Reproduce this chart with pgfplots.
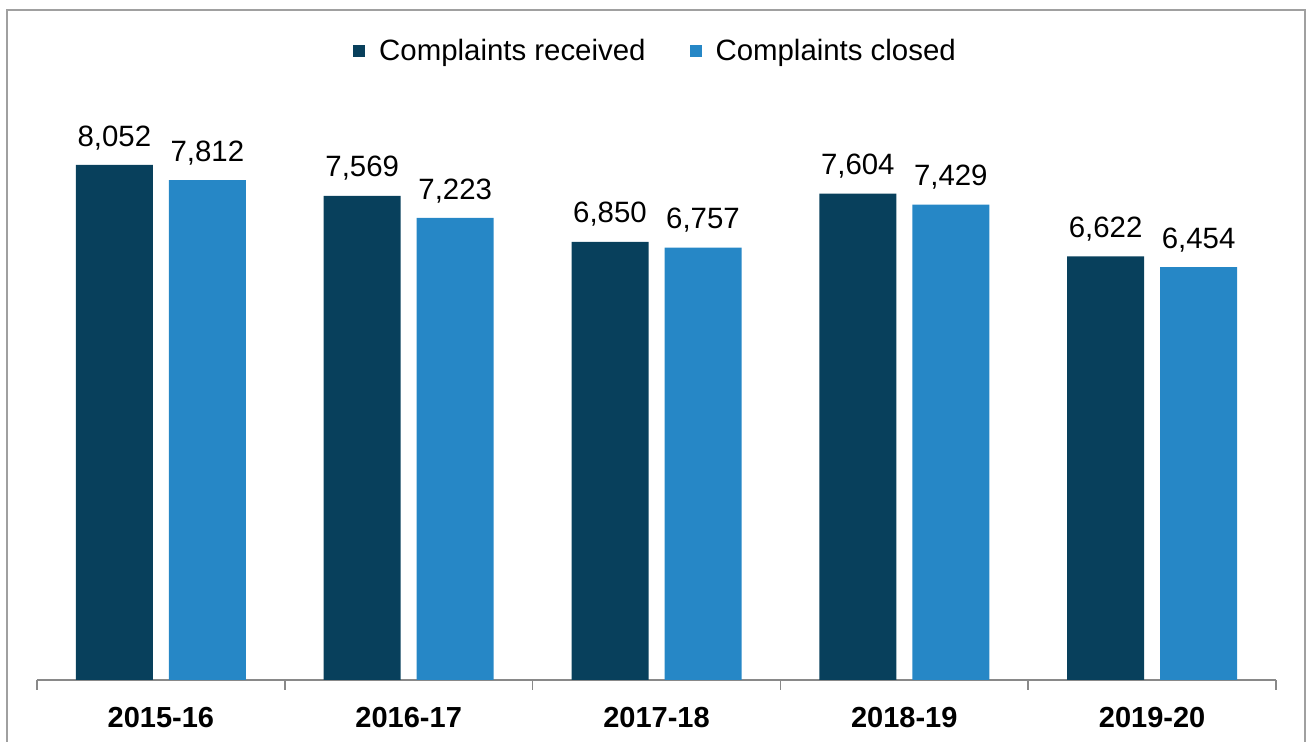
\documentclass[border=0pt]{standalone}
\usepackage{pgfplots}
\pgfplotsset{compat=1.18}
\usepackage{fontspec}
\setmainfont{Liberation Sans}
\definecolor{recv}{RGB}{8,64,92}
\definecolor{clos}{RGB}{38,135,198}
\definecolor{axgray}{RGB}{137,137,137}
\definecolor{framegray}{RGB}{160,160,160}
\begin{document}
\begin{tikzpicture}
\useasboundingbox (-18.5pt,-31pt) rectangle (634.5pt,340pt);
\begin{axis}[
  at={(0,0)}, anchor=south west,
  scale only axis, width=619.5pt, height=325pt,
  ybar=8pt, bar width=38.5pt,
  xmin=-0.5, xmax=4.5, ymin=0, ymax=10160,
  axis y line=none, axis x line*=bottom,
  x axis line style={axgray, line width=0.8pt, -},
  xtick={0,1,2,3,4},
  xticklabels={2015-16,2016-17,2017-18,2018-19,2019-20},
  major tick length=0pt,
  extra x ticks={-0.5,0.5,1.5,2.5,3.5,4.5},
  extra x tick labels={},
  extra x tick style={major tick length=5pt, tick align=outside,
    tick style={axgray, line width=0.8pt}},
  xticklabel style={font=\fontsize{14.5}{16}\selectfont\bfseries, yshift=-10pt},
  nodes near coords,
  every node near coord/.append style={font=\fontsize{14.7}{16}\selectfont, black, yshift=4pt},
  /pgf/number format/.cd, fixed, precision=0, 1000 sep={,}, assume math mode=true,
  /pgfplots/.cd,
  legend columns=2,
  legend style={draw=none, fill=none, at={(0.5,0.9678)}, anchor=center,
    font=\fontsize{14.7}{16}\selectfont, column sep=5pt,
    /tikz/every even column/.append style={column sep=20pt}},
  legend image code/.code={\fill[#1] (0pt,-3pt) rectangle (6pt,3pt);},
]
\addplot[fill=recv, draw=none] coordinates {(0,8052) (1,7569) (2,6850) (3,7604) (4,6622)};
\addplot[fill=clos, draw=none] coordinates {(0,7812) (1,7223) (2,6757) (3,7429) (4,6454)};
\legend{Complaints received,Complaints closed}
\end{axis}
\draw[framegray, line width=0.8pt] (-15pt,-32pt) -- (-15pt,335pt) -- (634pt,335pt) -- (634pt,-32pt);
\end{tikzpicture}
\end{document}
